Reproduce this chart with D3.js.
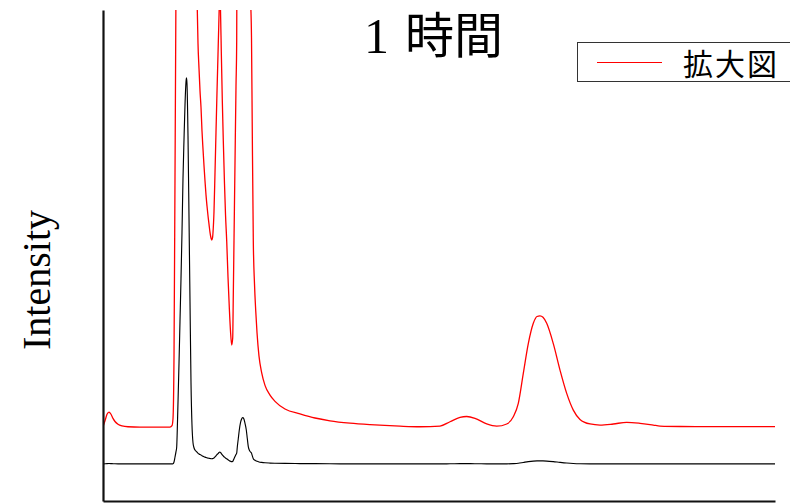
<!DOCTYPE html>
<html>
<head>
<meta charset="utf-8">
<script src="https://cdn.jsdelivr.net/npm/d3@7"></script>
<style>
  html, body { margin: 0; padding: 0; background: #fff; }
  svg { display: block; }
</style>
</head>
<body>
<script>
// Detector channel and measured intensity (arbitrary units)
const channel = [
  0, 2, 4, 6, 8, 10, 12, 15, 19, 25, 37, 57, 67, 69, 70, 71, 72, 73, 73.7, 74.5,
  75.3, 76, 77, 78, 79, 80, 81, 82, 83, 83.5, 84, 85, 86, 87, 88, 89, 90, 91, 92, 93,
  94.3, 95, 96, 97, 98, 99, 100, 101, 102, 103, 104, 105, 106, 107, 108, 108.7, 109.5, 110, 111, 112,
  113, 114, 115, 115.8, 116.7, 117.5, 118.3, 119.3, 120.3, 121.5, 122.5, 123.7, 125, 126.3, 127.5, 128.7, 129.7, 130.3, 131, 132,
  133, 133.7, 134.3, 135.3, 136.3, 137.5, 138.5, 139.7, 140.8, 142, 143.3, 144.3, 145.3, 146.3, 147.3, 148.5, 149.2, 150.3, 151.5, 152.7,
  154, 156, 158.7, 162, 167, 172, 182, 197, 212, 227, 247, 267, 297, 317, 337, 347, 357, 363.7, 372, 383.7,
  393.7, 403.7, 410.3, 415.3, 420.3, 425.3, 430.3, 434, 437, 440, 443.7, 450.3, 457, 463.7, 470.3, 477, 487, 497, 510.3, 523.7,
  537, 550.3, 557, 577, 617, 672
];
const intensity = [
  0.02, 0.45, 0.92, 1.08, 0.92, 0.62, 0.4, 0.2, 0.08, 0.02, 0, 0, 0, 0.1, 0.6, 5, 18, 32, 44, 110,
  190, 260, 370, 480, 600, 740, 840, 930, 990, 1000, 985, 850, 640, 420, 210, 100, 55, 42, 36, 33,
  30, 27.6, 25.8, 24.2, 23, 21.3, 20, 18.8, 17.7, 16.7, 15.9, 15.2, 14.6, 14.0, 13.6, 13.45, 13.6, 14.0, 15.5, 18.3,
  21.2, 24.1, 26.8, 29, 31, 30, 27, 23.5, 20.6, 17.5, 15.3, 13.4, 10.8, 8.6, 6.9, 5.9, 6.4, 9.5, 13.4, 19,
  24.5, 27.8, 44, 66, 88, 107, 116, 120, 117, 105, 88, 66, 45, 36, 31.5, 28, 22, 13.4, 10.3, 8.4,
  6.8, 5.1, 3.9, 3.0, 2.3, 1.85, 1.3, 0.95, 0.65, 0.45, 0.28, 0.17, 0.06, 0.02, 0.07, 0.38, 0.7, 0.76, 0.63, 0.22,
  0.06, 0.22, 0.74, 1.7, 3.86, 6.0, 7.46, 7.95, 8.0, 7.9, 7.46, 6.0, 4.1, 2.42, 1.22, 0.55, 0.22, 0.14, 0.22, 0.34,
  0.27, 0.14, 0.07, 0.04, 0.03, 0.03
];

// Axis ranges: full view and the magnified view (拡大図)
const channelDomain = [0, 672];
const fullDomain = [-96, 1176];
const zoomDomain = [-5.32, 30];

const titleNumber = "1";
const titleUnit = "時間";
const legendLabel = "拡大図";
const yAxisLabel = "Intensity";

const W = 790, H = 503;
const plot = { left: 103, top: 10, right: 775, bottom: 501 };

const svg = d3.select("body").append("svg")
  .attr("width", W).attr("height", H);

const x = d3.scaleLinear().domain(channelDomain).range([plot.left, plot.right]);
const yFull = d3.scaleLinear().domain(fullDomain).range([plot.bottom, plot.top]);
const yZoom = d3.scaleLinear().domain(zoomDomain).range([plot.bottom, plot.top]);

const points = channel.map((c, i) => ({ c, v: intensity[i] }));

svg.append("defs").append("clipPath").attr("id", "plot-clip")
  .append("rect")
  .attr("x", plot.left).attr("y", plot.top)
  .attr("width", plot.right - plot.left)
  .attr("height", plot.bottom - plot.top);

const lines = svg.append("g").attr("clip-path", "url(#plot-clip)");

const lineFull = d3.line().x(d => x(d.c)).y(d => yFull(d.v)).curve(d3.curveMonotoneX);
const lineZoom = d3.line().x(d => x(d.c)).y(d => yZoom(d.v)).curve(d3.curveMonotoneX);

lines.append("path")
  .datum(points)
  .attr("d", lineZoom)
  .attr("fill", "none")
  .attr("stroke", "#ff0000")
  .attr("stroke-width", 1.3);

lines.append("path")
  .datum(points)
  .attr("d", lineFull)
  .attr("fill", "none")
  .attr("stroke", "#000")
  .attr("stroke-width", 1.15);

// Axes: plain lines, no tick labels
svg.append("g")
  .attr("transform", `translate(${plot.left},0)`)
  .call(d3.axisLeft(yFull).ticks(0).tickSizeOuter(0));
svg.append("g")
  .attr("transform", `translate(0,${plot.bottom})`)
  .call(d3.axisBottom(x).ticks(0).tickSizeOuter(0));
svg.selectAll(".domain").attr("stroke", "#111").attr("stroke-width", 2.2);

// Y axis title
svg.append("text")
  .attr("transform", "translate(50,280) rotate(-90)")
  .attr("text-anchor", "middle")
  .attr("font-family", "'Liberation Serif', 'Times New Roman', serif")
  .attr("font-size", 40)
  .attr("fill", "#000")
  .text(yAxisLabel);

// Chart title: serif numeral followed by the Japanese unit
svg.append("text")
  .attr("x", 364).attr("y", 53)
  .attr("font-family", "'Liberation Serif', serif")
  .attr("font-size", 50)
  .attr("fill", "#000")
  .text(titleNumber);
svg.append("text")
  .attr("x", 405).attr("y", 53)
  .attr("font-family", "'Noto Sans CJK JP', sans-serif")
  .attr("font-size", 49)
  .attr("fill", "#000")
  .text(titleUnit);

// Legend
const legend = svg.append("g");
legend.append("rect")
  .attr("x", 577.5).attr("y", 42.5)
  .attr("width", 240).attr("height", 39)
  .attr("fill", "#fff")
  .attr("stroke", "#333").attr("stroke-width", 1);
legend.append("line")
  .attr("x1", 597).attr("x2", 662)
  .attr("y1", 62.5).attr("y2", 62.5)
  .attr("stroke", "#ff0000").attr("stroke-width", 1);
legend.append("text")
  .attr("x", 683).attr("y", 74.5)
  .attr("font-family", "'Noto Sans CJK JP', sans-serif")
  .attr("font-size", 30)
  .attr("letter-spacing", 2)
  .attr("fill", "#000")
  .text(legendLabel);
</script>
</body>
</html>
